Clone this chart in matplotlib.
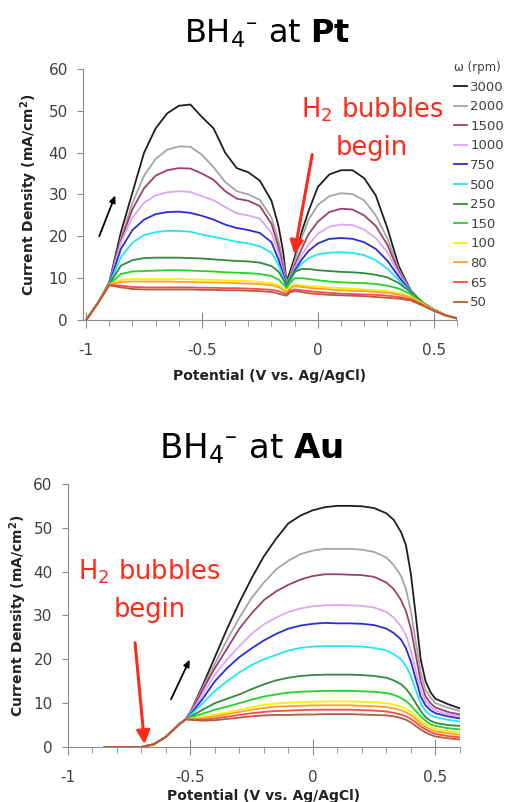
import numpy as np
import matplotlib
matplotlib.use('Agg')
from matplotlib import pyplot as plt
from matplotlib.ticker import MultipleLocator

plt.rcParams['font.family'] = ['DejaVu Sans']
plt.rcParams['mathtext.fontset'] = 'dejavusans'

# rotation rates (rpm) and line colours
rpm = ['3000', '2000', '1500', '1000', '750', '500', '250', '150', '100', '80', '65', '50']
colors = ['#1e1e1e', '#a5a5a5', '#9c3f6e', '#dba6f2', '#2b2be0', '#22e6f2',
          '#2e8c3c', '#22d42a', '#f5f010', '#ffa31a', '#ff4a4a', '#b85a3c']

# ---- Pt electrode: potential (V vs Ag/AgCl) and current density (mA/cm2)
pt_x = [-1.0, -0.95, -0.9, -0.85, -0.8, -0.75, -0.7, -0.65, -0.6, -0.55, -0.5, -0.45,
        -0.4, -0.35, -0.3, -0.25, -0.2, -0.17, -0.15, -0.135, -0.12, -0.1, -0.07,
        -0.04, 0.0, 0.05, 0.1, 0.15, 0.2, 0.25, 0.3, 0.35, 0.4, 0.45, 0.5, 0.55, 0.6]

pt_3000 = [0, 4, 9, 21, 30.5, 40, 45.8, 49.4, 51.2, 51.5, 48.5, 45.8, 40, 36.3, 35.3, 33.3, 28.5,
           22.5, 16.5, 9.2, 11.5, 15, 21, 26, 31.8, 34.8, 35.8, 35.8, 33.9, 29.8, 22,
           12.8, 7.2, 4.2, 2.5, 1.2, 0.4]
pt_2000 = [0, 4, 8.8, 19.5, 28, 34.5, 38.5, 40.7, 41.5, 41.4, 39.5, 36.5, 33, 30.8, 30, 28.7, 24.5,
           19, 14, 8.9, 10.5, 14, 19.5, 24, 27.5, 29.6, 30.3, 30.1, 28.6, 25, 19.5,
           12, 7.1, 4.2, 2.5, 1.2, 0.4]
pt_1500 = [0, 4, 8.8, 19, 26.5, 31.5, 34.5, 35.8, 36.3, 36.2, 35, 33.5, 30.8, 29, 28.5, 27.2, 23,
           17.5, 12.5, 8.6, 9.8, 13, 17, 20.5, 23.5, 25.8, 26.6, 26.4, 25, 22.5, 18,
           11.5, 7, 4.2, 2.5, 1.2, 0.4]
pt_1000 = [0, 4, 8.7, 18.5, 24.5, 28, 29.8, 30.5, 30.8, 30.6, 29.6, 28.6, 27, 25.5, 25, 24.2, 20.8,
           16, 11.5, 8.5, 9.5, 12.4, 15.5, 18, 20.6, 22.3, 22.8, 22.7, 21.6, 19.6, 16.2,
           11, 7, 4.2, 2.5, 1.2, 0.4]
pt_750 = [0, 4, 8.7, 17, 21.5, 24, 25.3, 25.8, 25.9, 25.6, 24.9, 24, 22.8, 22, 21.5, 20.8, 18.6,
          14.5, 11, 8.4, 9.3, 11.8, 14.4, 16.5, 18.3, 19.4, 19.6, 19.4, 18.6, 17, 14.2,
          10.3, 6.9, 4.2, 2.5, 1.2, 0.4]
pt_500 = [0, 4, 8.6, 15, 18.5, 20.3, 21, 21.3, 21.3, 21.1, 20.4, 19.9, 19.3, 18.7, 18.3, 17.6, 16.1,
          13.2, 10.3, 8.3, 9.2, 11.3, 13.4, 14.8, 15.7, 16.1, 16.2, 16, 15.5, 14.3, 12.3,
          9.5, 6.8, 4.2, 2.5, 1.2, 0.4]
pt_250 = [0, 4, 8.6, 13, 14.3, 14.8, 14.9, 14.9, 14.9, 14.8, 14.7, 14.5, 14.3, 14.1, 14, 13.7, 12.9,
          11.6, 9.8, 8.2, 9.8, 11.5, 12.2, 12.2, 11.9, 11.7, 11.5, 11.4, 11.2, 10.8, 10.2,
          8.8, 6.7, 4.3, 2.5, 1.2, 0.4]
pt_150 = [0, 4, 8.5, 11, 11.6, 11.7, 11.8, 11.9, 11.9, 11.8, 11.7, 11.6, 11.4, 11.3, 11.2, 11, 10.5,
          9.7, 8.6, 7.6, 8.8, 10, 10, 9.8, 9.5, 9.2, 9, 8.9, 8.8, 8.6, 8.2,
          7.5, 6.2, 4.2, 2.5, 1.2, 0.4]
pt_100 = [0, 4, 8.5, 9.6, 9.8, 9.8, 9.8, 9.8, 9.8, 9.7, 9.6, 9.6, 9.5, 9.4, 9.3, 9.1, 8.8,
          8.3, 7.6, 7.0, 7.8, 8.5, 8.3, 8.1, 8, 7.8, 7.6, 7.5, 7.3, 7.1, 6.9,
          6.4, 5.6, 4, 2.4, 1.2, 0.4]
pt_80 = [0, 4, 8.5, 9.1, 9.2, 9.2, 9.2, 9.2, 9.1, 9.1, 9.0, 9.0, 8.9, 8.8, 8.7, 8.6, 8.3,
         7.9, 7.2, 6.7, 7.5, 8.1, 7.9, 7.7, 7.5, 7.3, 7.1, 7, 6.9, 6.7, 6.5,
         6.1, 5.4, 3.9, 2.4, 1.1, 0.4]
pt_65 = [0, 4, 8.4, 8.2, 7.9, 7.8, 7.8, 7.8, 7.8, 7.8, 7.7, 7.7, 7.6, 7.6, 7.5, 7.4, 7.2,
         6.9, 6.5, 6.2, 7, 7.3, 7.1, 6.9, 6.7, 6.5, 6.3, 6.2, 6.1, 6, 5.8,
         5.5, 5, 3.7, 2.3, 1.1, 0.4]
pt_50 = [0, 4, 8.3, 7.8, 7.4, 7.3, 7.3, 7.3, 7.3, 7.3, 7.2, 7.2, 7.1, 7.1, 7, 6.9, 6.7,
         6.3, 6, 5.8, 6.6, 6.9, 6.7, 6.4, 6.2, 6, 5.9, 5.8, 5.7, 5.5, 5.3,
         5.1, 4.7, 3.5, 2.2, 1.1, 0.4]

# ---- Au electrode
au_x = [-0.85, -0.8, -0.75, -0.7, -0.65, -0.6, -0.55, -0.52, -0.5, -0.45, -0.4, -0.35,
        -0.3, -0.25, -0.2, -0.15, -0.1, -0.05, 0.0, 0.05, 0.1, 0.15, 0.2, 0.25, 0.3,
        0.33, 0.36, 0.38, 0.4, 0.42, 0.44, 0.46, 0.48, 0.5, 0.55, 0.6]

au_3000 = [0, 0, 0, 0, 0.6, 2.3, 5, 6.3, 8, 14, 20.5, 27, 33, 38.5, 43.5, 47.5, 51, 52.8,
           54, 54.7, 55, 55, 54.9, 54.5, 53.3, 51.8, 49, 46, 39.5, 30, 20, 15, 12.5, 11, 9.8, 8.8]
au_2000 = [0, 0, 0, 0, 0.6, 2.3, 5, 6.3, 8, 13.5, 19, 24.5, 29.5, 34, 37.5, 40.5, 42.5, 44,
           44.8, 45.2, 45.2, 45.2, 45, 44.5, 43.2, 41.5, 39, 36, 31, 24, 17, 13, 11.3, 10, 9, 8.2]
au_1500 = [0, 0, 0, 0, 0.6, 2.3, 5, 6.3, 7.8, 13, 18, 22.5, 27, 30.5, 33.5, 35.5, 37, 38.2,
           39, 39.4, 39.4, 39.3, 39.2, 38.8, 37.5, 36, 33.5, 31, 27, 21, 15, 11.5, 10, 9, 8, 7.4]
au_1000 = [0, 0, 0, 0, 0.6, 2.3, 5, 6.3, 7.6, 12, 16.5, 20, 23, 25.8, 28, 29.5, 30.8, 31.6,
           32.1, 32.3, 32.4, 32.3, 32.2, 31.8, 30.8, 29.5, 27.5, 25.5, 22, 17.5, 13, 10.5, 9.2, 8.3, 7.5, 7]
au_750 = [0, 0, 0, 0, 0.6, 2.3, 5, 6.3, 7.4, 11, 15, 18, 20.5, 22.5, 24.3, 25.8, 27, 27.7,
          28.1, 28.3, 28.2, 28.2, 28.1, 27.8, 27, 26, 24.5, 22.5, 19.5, 15.5, 11.5, 9.5, 8.4, 7.7, 7, 6.5]
au_500 = [0, 0, 0, 0, 0.6, 2.3, 5, 6.3, 7.2, 10, 12.8, 15, 17, 18.7, 20, 21, 22, 22.6,
          22.9, 23, 23, 23, 22.9, 22.6, 22, 21.2, 20, 18.5, 16.2, 13, 10, 8.2, 7.3, 6.8, 6.2, 5.8]
au_250 = [0, 0, 0, 0, 0.6, 2.3, 5, 6.3, 6.9, 8.5, 10, 11, 12, 13.2, 14.3, 15.2, 15.8, 16.2,
          16.4, 16.5, 16.5, 16.5, 16.4, 16.2, 15.8, 15.2, 14.3, 13.3, 11.8, 10, 8.2, 6.8, 6, 5.5, 5, 4.8]
au_150 = [0, 0, 0, 0, 0.6, 2.3, 5, 6.3, 6.7, 7.6, 8.5, 9.2, 10, 10.8, 11.5, 12, 12.4, 12.6,
          12.7, 12.8, 12.8, 12.8, 12.7, 12.6, 12.3, 11.9, 11.2, 10.5, 9.5, 8.2, 7, 6, 5.2, 4.8, 4.3, 4]
au_100 = [0, 0, 0, 0, 0.6, 2.3, 5, 6.3, 6.5, 6.8, 7.4, 7.9, 8.5, 9.1, 9.6, 9.9, 10.1, 10.2,
          10.3, 10.4, 10.4, 10.4, 10.3, 10.2, 10, 9.7, 9.2, 8.7, 8, 7, 6, 5.2, 4.6, 4.1, 3.6, 3.3]
au_80 = [0, 0, 0, 0, 0.6, 2.3, 5, 6.3, 6.4, 6.5, 7, 7.5, 8, 8.5, 8.9, 9.2, 9.3, 9.4,
         9.5, 9.5, 9.5, 9.5, 9.4, 9.3, 9.1, 8.8, 8.4, 7.9, 7.3, 6.4, 5.4, 4.6, 4, 3.6, 3.1, 2.8]
au_65 = [0, 0, 0, 0, 0.6, 2.3, 5, 6.3, 6.3, 6.2, 6.5, 6.9, 7.3, 7.7, 8, 8.2, 8.3, 8.4,
         8.5, 8.5, 8.5, 8.5, 8.4, 8.3, 8.1, 7.8, 7.4, 7, 6.4, 5.6, 4.7, 4, 3.4, 3, 2.5, 2.2]
au_50 = [0, 0, 0, 0, 0.6, 2.3, 5, 6.3, 6.2, 6, 6.1, 6.4, 6.7, 7, 7.2, 7.3, 7.3, 7.4,
         7.4, 7.5, 7.5, 7.5, 7.4, 7.3, 7.2, 7, 6.6, 6.2, 5.6, 4.8, 4, 3.3, 2.8, 2.4, 2, 1.7]

pt_curves = [pt_3000, pt_2000, pt_1500, pt_1000, pt_750, pt_500,
             pt_250, pt_150, pt_100, pt_80, pt_65, pt_50]
au_curves = [au_3000, au_2000, au_1500, au_1000, au_750, au_500,
             au_250, au_150, au_100, au_80, au_65, au_50]

fig = plt.figure(figsize=(5.07, 8.02), dpi=100)
ax1 = fig.add_axes([0.164, 0.601, 0.737, 0.313])
ax2 = fig.add_axes([0.134, 0.0686, 0.773, 0.328])

axcol = '#8c8c8c'
txtcol = '#404040'


def style(ax, xlo, xpad, ypad):
    ax.set_xlim(xlo, 0.6)
    ax.set_ylim(0, 60)
    for s in ['top', 'right']:
        ax.spines[s].set_visible(False)
    for s in ['left', 'bottom']:
        ax.spines[s].set_color(axcol)
    ax.xaxis.set_minor_locator(MultipleLocator(0.1))
    ax.yaxis.set_major_locator(MultipleLocator(10))
    ax.tick_params(axis='x', which='major', direction='inout', length=11, color=axcol,
                   labelsize=11, labelcolor=txtcol, pad=11)
    ax.tick_params(axis='x', which='minor', direction='out', length=4, color=axcol)
    ax.tick_params(axis='y', direction='out', length=4, color=axcol,
                   labelsize=11, labelcolor=txtcol, pad=7)
    ax.set_xticks([-1, -0.5, 0, 0.5])
    ax.set_xticklabels(['-1', '-0.5', '0', '0.5'])
    ax.set_xlabel('Potential (V vs. Ag/AgCl)', fontsize=10, fontweight='bold',
                  color='#222222', labelpad=xpad)
    ax.set_ylabel('Current Density (mA/cm$^\\mathbf{2}$)', fontsize=10, fontweight='bold',
                  color='#222222', labelpad=ypad)


for y, c, lab in zip(pt_curves, colors, rpm):
    ax1.plot(pt_x, y, color=c, lw=1.3, label=lab)
for y, c in zip(au_curves, colors):
    ax2.plot(au_x, y, color=c, lw=1.3)

style(ax1, -1.013, 8, 6)
style(ax2, -1.0, 3, 3)

fig.text(0.527, 0.9464, 'BH$_4{}^{\u2013}$ at $\\mathbf{Pt}$', fontsize=23,
         ha='center', va='baseline')
fig.text(0.496, 0.4289, 'BH$_4{}^{\u2013}$ at $\\mathbf{Au}$', fontsize=24.5,
         ha='center', va='baseline')

red = '#ff2a1a'
ax1.text(0.234, 48.3, 'H$_2$ bubbles', color=red, fontsize=18.5, ha='center', va='baseline')
ax1.text(0.234, 39.4, 'begin', color=red, fontsize=18.5, ha='center', va='baseline')
ax1.annotate('', xy=(-0.104, 15.1), xytext=(-0.022, 40.2),
             arrowprops=dict(arrowstyle='-|>,head_length=0.8,head_width=0.4',
                             color=red, lw=2.2))
ax1.annotate('', xy=(-0.87, 30.4), xytext=(-0.948, 19.4),
             arrowprops=dict(arrowstyle='-|>,head_length=0.4,head_width=0.18',
                             color='black', lw=1.3))

ax2.text(-0.666, 38.1, 'H$_2$ bubbles', color=red, fontsize=18.5, ha='center', va='baseline')
ax2.text(-0.666, 29.7, 'begin', color=red, fontsize=18.5, ha='center', va='baseline')
ax2.annotate('', xy=(-0.686, 0), xytext=(-0.727, 24.4),
             arrowprops=dict(arrowstyle='-|>,head_length=0.8,head_width=0.4',
                             color=red, lw=2.2))
ax2.annotate('', xy=(-0.498, 20.5), xytext=(-0.584, 10.3),
             arrowprops=dict(arrowstyle='-|>,head_length=0.4,head_width=0.18',
                             color='black', lw=1.3))

leg = ax1.legend(loc='upper left', bbox_to_anchor=(0.895, 0.924),
                 bbox_transform=fig.transFigure, frameon=False,
                 title='\u03c9 (rpm)', title_fontsize=8.5, fontsize=9.5,
                 handlelength=1.0, handletextpad=0.25, labelspacing=0.5,
                 borderpad=0, borderaxespad=0, alignment='left')
leg.get_title().set_color(txtcol)
for t in leg.get_texts():
    t.set_color(txtcol)

fig.savefig('out.png', dpi=100)
